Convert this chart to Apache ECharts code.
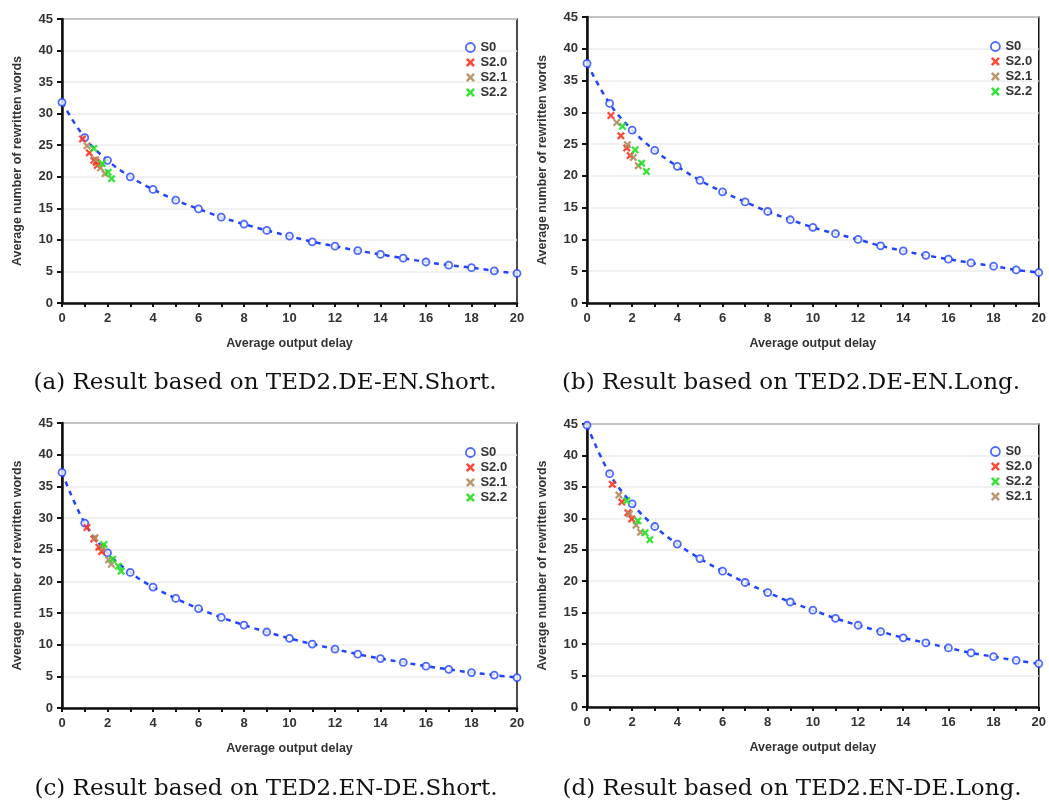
<!DOCTYPE html>
<html>
<head>
<meta charset="utf-8">
<script src="https://cdn.jsdelivr.net/npm/echarts@6/dist/echarts.min.js"></script>
<style>
  html, body { margin: 0; padding: 0; background: #fff; }
  #chart { width: 1049px; height: 803px; }
</style>
</head>
<body>
<div id="chart"></div>
<script>
// values
const delay = [0, 1, 2, 3, 4, 5, 6, 7, 8, 9, 10, 11, 12, 13, 14, 15, 16, 17, 18, 19, 20]

const s0A = [31.8, 26.2, 22.6, 20.0, 18.0, 16.3, 14.9, 13.6, 12.5, 11.5, 10.6, 9.7, 9.0, 8.3, 7.7, 7.1, 6.5, 6.0, 5.6, 5.1, 4.7]
const s0B = [37.7, 31.4, 27.2, 24.0, 21.5, 19.3, 17.5, 15.9, 14.4, 13.1, 11.9, 10.9, 10.0, 9.0, 8.2, 7.5, 6.9, 6.3, 5.8, 5.2, 4.8]
const s0C = [37.2, 29.2, 24.5, 21.4, 19.1, 17.3, 15.7, 14.3, 13.1, 12.0, 11.0, 10.1, 9.3, 8.5, 7.8, 7.2, 6.6, 6.1, 5.6, 5.2, 4.8]
const s0D = [44.8, 37.1, 32.3, 28.7, 25.9, 23.6, 21.6, 19.8, 18.2, 16.7, 15.4, 14.1, 13.0, 12.0, 11.0, 10.2, 9.4, 8.6, 8.0, 7.4, 6.9]

// [delay, rewritten words]
const s20A = [[0.9, 26.0], [1.2, 23.8], [1.4, 22.6], [1.5, 22.3], [1.55, 21.8]]
const s21A = [[1.1, 24.9], [1.48, 22.7], [1.69, 21.4], [1.89, 20.5]]
const s22A = [[1.4, 24.5], [1.77, 22.1], [2.03, 20.7], [2.18, 19.7]]

const s20B = [[1.06, 29.5], [1.5, 26.3], [1.76, 24.4], [1.91, 23.2]]
const s21B = [[1.32, 28.4], [1.79, 24.9], [2.05, 22.9], [2.27, 21.6]]
const s22B = [[1.57, 27.8], [2.13, 24.1], [2.42, 22.0], [2.63, 20.7]]

const s20C = [[1.1, 28.5], [1.4, 26.7], [1.62, 25.4], [1.74, 24.7]]
const s21C = [[1.45, 26.9], [1.8, 25.3], [2.05, 23.4], [2.17, 22.7]]
const s22C = [[1.84, 25.8], [2.23, 23.5], [2.48, 22.4], [2.6, 21.6]]

const s20D = [[1.12, 35.4], [1.54, 32.6], [1.81, 30.9], [1.98, 29.9]]
const s21D = [[1.41, 33.7], [1.88, 30.7], [2.17, 28.9], [2.37, 27.8]]
const s22D = [[1.76, 32.8], [2.25, 29.6], [2.57, 27.7], [2.78, 26.6]]

const captions = [
	'(a) Result based on TED2.DE-EN.Short.',
	'(b) Result based on TED2.DE-EN.Long.',
	'(c) Result based on TED2.EN-DE.Short.',
	'(d) Result based on TED2.EN-DE.Long.',
]

const BLUE = '#2244ff'
const RED = '#ff3322'
const BROWN = '#b48c60'
const GREEN = '#22e022'
const CROSS = 'path://M2,0L5,3L8,0L10,2L7,5L10,8L8,10L5,7L2,10L0,8L3,5L0,2Z'
const FONT = 'Liberation Sans'

const panels = [
	{ grid: { left: 62, top: 19, width: 455, height: 284 }, s0: s0A, s20: s20A, s21: s21A, s22: s22A, legend: [460, 36], order: ['S0', 'S2.0', 'S2.1', 'S2.2'], cap: [265, 383] },
	{ grid: { left: 587, top: 17, width: 456, height: 286 }, s0: s0B, s20: s20B, s21: s21B, s22: s22B, legend: [985, 35], order: ['S0', 'S2.0', 'S2.1', 'S2.2'], cap: [791, 383] },
	{ grid: { left: 62, top: 423, width: 455, height: 285 }, s0: s0C, s20: s20C, s21: s21C, s22: s22C, legend: [460, 441], order: ['S0', 'S2.0', 'S2.1', 'S2.2'], cap: [266, 789] },
	{ grid: { left: 587, top: 424, width: 456, height: 283 }, s0: s0D, s20: s20D, s21: s21D, s22: s22D, legend: [985, 440], order: ['S0', 'S2.0', 'S2.2', 'S2.1'], cap: [792, 789] },
]

const chart = echarts.init(document.getElementById('chart'), null, { renderer: 'canvas' })

const grid = [], xAxis = [], yAxis = [], series = [], legend = [], graphic = []

panels.forEach((p, i) => {
	grid.push(Object.assign({ show: true, borderColor: '#111', borderWidth: 1.5, backgroundColor: '#fff' }, p.grid))

	xAxis.push({
		gridIndex: i,
		type: 'value',
		min: 0,
		max: 20,
		interval: 2,
		name: 'Average output delay',
		nameLocation: 'middle',
		nameGap: 34,
		nameTextStyle: { fontFamily: FONT, fontWeight: 'bold', fontSize: 12.5, color: '#333' },
		axisLine: { onZero: false, lineStyle: { color: '#111', width: 2.5 } },
		axisTick: { length: 4, lineStyle: { color: '#111', width: 2 } },
		minorTick: { show: true, splitNumber: 2, length: 4, lineStyle: { color: '#111', width: 2 } },
		axisLabel: { fontFamily: FONT, fontWeight: 'bold', fontSize: 13, color: '#333', margin: 9 },
		splitLine: { show: false },
	})

	yAxis.push({
		gridIndex: i,
		type: 'value',
		min: 0,
		max: 45,
		interval: 5,
		name: 'Average number of rewritten words',
		nameLocation: 'middle',
		nameGap: 38,
		nameTextStyle: { fontFamily: FONT, fontWeight: 'bold', fontSize: 12.5, color: '#333' },
		axisLine: { onZero: false, lineStyle: { color: '#111', width: 2.5 } },
		axisTick: { length: 5, lineStyle: { color: '#111', width: 2 } },
		axisLabel: { fontFamily: FONT, fontWeight: 'bold', fontSize: 13, color: '#333', margin: 9 },
		splitLine: { show: true, lineStyle: { color: '#ececec', width: 1.5 } },
	})

	// dashed trend through the S0 points
	series.push({
		name: 'S0 trend',
		type: 'line',
		xAxisIndex: i,
		yAxisIndex: i,
		data: delay.map((d, k) => [d, p.s0[k]]),
		smooth: 0.4,
		symbol: 'none',
		lineStyle: { color: BLUE, width: 2.5, type: [5, 5] },
		silent: true,
		z: 2,
	})
	series.push({
		name: 'S0',
		type: 'scatter',
		xAxisIndex: i,
		yAxisIndex: i,
		data: delay.map((d, k) => [d, p.s0[k]]),
		symbol: 'circle',
		symbolSize: 7,
		itemStyle: { color: '#fff', borderColor: BLUE, borderWidth: 1.8 },
		z: 3,
	})
	const crosses = [['S2.0', p.s20, RED], ['S2.1', p.s21, BROWN], ['S2.2', p.s22, GREEN]]
	crosses.forEach(([name, data, color]) => {
		series.push({
			name,
			type: 'scatter',
			xAxisIndex: i,
			yAxisIndex: i,
			data,
			symbol: CROSS,
			symbolSize: 8,
			itemStyle: { color, opacity: 0.9 },
			z: 4,
		})
	})

	legend.push({
		orient: 'vertical',
		left: p.legend[0],
		top: p.legend[1],
		itemWidth: 10,
		itemHeight: 9,
		itemGap: 2,
		selectedMode: false,
		textStyle: { fontFamily: FONT, fontWeight: 'bold', fontSize: 13, color: '#333', padding: [0, 0, 0, 0] },
		data: p.order.map(n => n === 'S0'
			? { name: n, icon: 'circle', itemStyle: { color: '#fff', borderColor: BLUE, borderWidth: 1.8 } }
			: { name: n, icon: CROSS }),
	})

	graphic.push({
		type: 'text',
		x: p.cap[0],
		y: p.cap[1],
		style: {
			text: captions[i],
			font: '23px "DejaVu Serif"',
			fill: '#111',
			align: 'center',
			verticalAlign: 'middle',
		},
	})
})

chart.setOption({
	animation: false,
	grid,
	xAxis,
	yAxis,
	series,
	legend,
	graphic,
})
</script>
</body>
</html>
